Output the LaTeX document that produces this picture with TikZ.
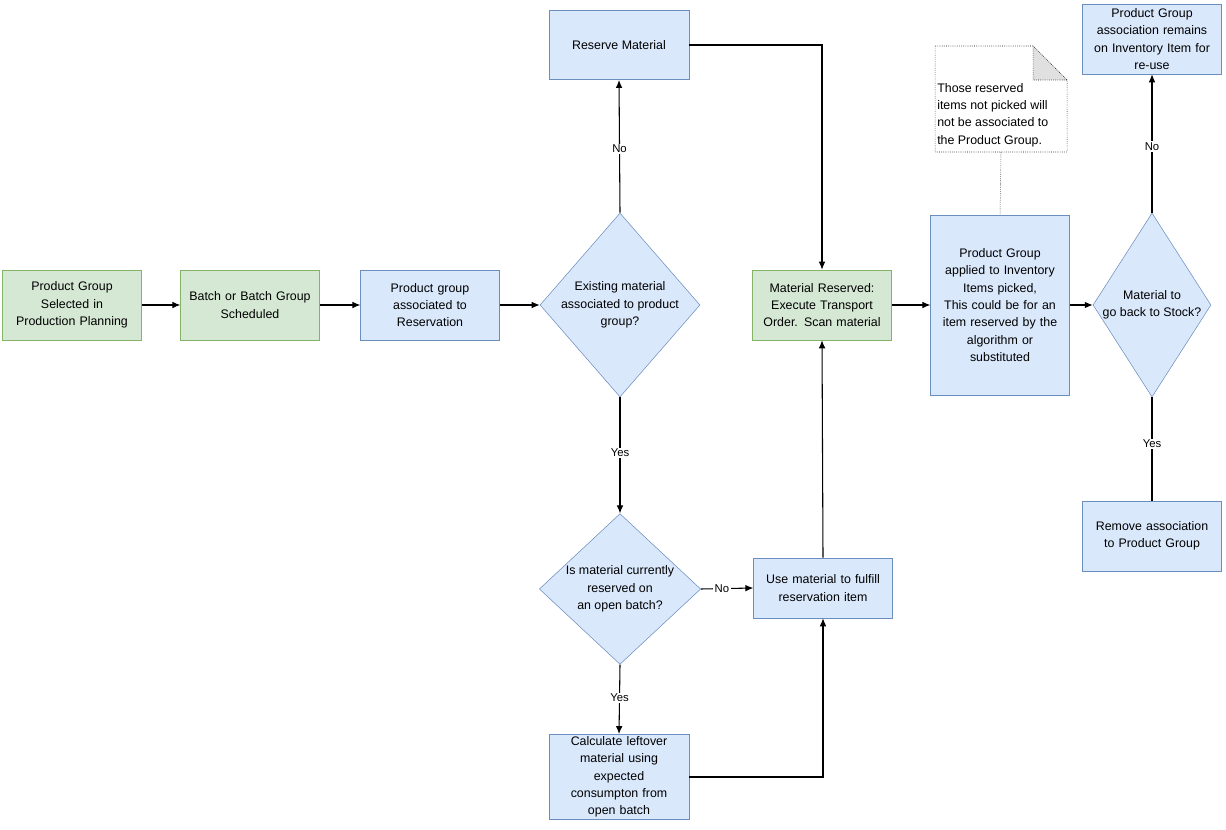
\documentclass[tikz,border=0pt]{standalone}
\usepackage{fontspec}
\setmainfont{Liberation Sans}
\usetikzlibrary{shapes.geometric,arrows.meta}
\definecolor{bfill}{HTML}{DAE8FC}\definecolor{bline}{HTML}{6C8EBF}
\definecolor{gfill}{HTML}{D5E8D4}\definecolor{gline}{HTML}{82B366}
\begin{document}
\begin{tikzpicture}[x=0.75pt,y=-0.75pt,
 every node/.style={font=\fontsize{9.3}{13}\selectfont,align=center},
 blue/.style={draw=bline,fill=bfill,minimum width=104pt,inner sep=1pt},
 green/.style={draw=gline,fill=gfill,minimum width=104pt,inner sep=1pt},
 dia/.style={diamond,draw=bline,fill=bfill,inner sep=0pt},
 arr/.style={-{Latex[length=6pt,width=5pt]},line width=0.8pt},
 lab/.style={fill=white,inner sep=1pt,font=\fontsize{8.5}{10}\selectfont}]
\useasboundingbox (0,0) rectangle (1226,830);
\node[green,minimum height=52.5pt,text width=100pt] (A) at (72,305) {Product Group\\Selected in\\Production Planning};
\node[green,minimum height=52.5pt,text width=100pt] (B) at (250,305) {Batch or Batch Group\\Scheduled};
\node[blue,minimum height=52.5pt,text width=100pt] (C) at (430,305) {Product group\\associated to\\Reservation};
\node[dia,minimum width=120pt,minimum height=138pt] (D1) at (620,305) {};
\node at (620,305) {Existing material\\associated to product\\group?};
\node[blue,minimum width=105pt,minimum height=52pt] (R) at (619,45) {Reserve Material};
\node[dia,minimum width=121pt,minimum height=113pt] (D2) at (620,589) {};
\node at (620,589) {Is material currently\\reserved on\\an open batch?};
\node[blue,minimum width=105pt,minimum height=64pt,text width=100pt] (CL) at (619,777) {Calculate leftover\\material using\\expected\\consumpton from\\open batch};
\node[blue,minimum width=104pt,minimum height=45pt,text width=100pt] (U) at (823,588) {Use material to fulfill\\reservation item};
\node[green,minimum height=52.5pt,text width=100pt] (MR) at (822,305) {Material Reserved:\\Execute Transport\\Order. Scan material};
\node[blue,minimum height=135pt,text width=100pt] (P) at (1000,305) {Product Group\\applied to Inventory\\Items picked,\\This could be for an\\item reserved by the\\algorithm or\\substituted};
\node[dia,minimum width=88.5pt,minimum height=138pt] (D3) at (1152,305) {};
\node at (1152,305) {Material to\\go back to Stock?};
\node[blue,minimum height=52.5pt,text width=102pt] (T) at (1152,39) {Product Group\\association remains\\on Inventory Item for\\re-use};
\node[blue,minimum height=52.5pt,text width=102pt] (RM) at (1152,536) {Remove association\\to Product Group};
% note
\draw[densely dotted,fill=white] (935,46) -- (1033,46) -- (1067,80) -- (1067,152) -- (935,152) -- cycle;
\draw[densely dotted,fill=black!12] (1033,46) -- (1033,80) -- (1067,80) -- cycle;
\node[align=left,anchor=north west,inner sep=0pt] (N) at (937,83) {Those reserved\\items not picked will\\not be associated to\\the Product Group.};
\coordinate (Nb) at (1001,152);
\draw[densely dotted] (Nb) -- (P.north);
% edges
\draw[arr] (A) -- (B);
\draw[arr] (B) -- (C);
\draw[arr] (C) -- (D1);
\draw[arr] (D1.north) -- node[lab,pos=0.48]{No} (R.south);
\draw[arr] (R.east) -| (MR.north);
\draw[arr] (D1.south) -- node[lab,pos=0.48]{Yes} (D2.north);
\draw[arr] (D2.east) -- node[lab,pos=0.4]{No} (U.west);
\draw[arr] (D2.south) -- node[lab,pos=0.48]{Yes} (CL.north);
\draw[arr] (CL.east) -| (U.south);
\draw[arr] (U.north) -- (MR.south);
\draw[arr] (MR) -- (P);
\draw[arr] (P) -- (D3);
\draw[arr] (D3.north) -- node[lab,pos=0.48]{No} (T.south);
\draw[line width=0.8pt] (RM.north) -- node[lab,pos=0.55]{Yes} (D3.south);
\end{tikzpicture}
\end{document}
